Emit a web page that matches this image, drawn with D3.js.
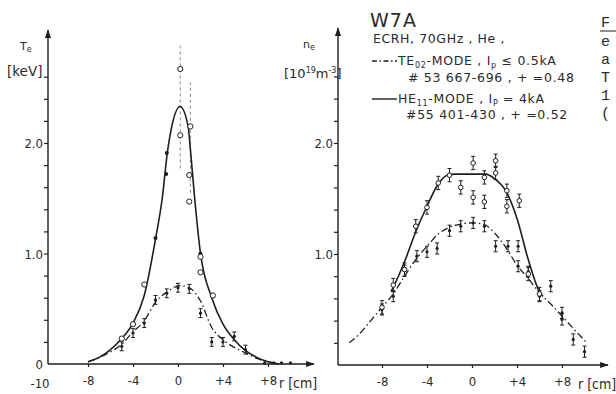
<!DOCTYPE html>
<html>
<head>
<meta charset="utf-8">
<script src="https://cdn.jsdelivr.net/npm/d3@7"></script>
<style>
  body { margin: 0; background: #fff; }
  svg { display: block; }
  text { fill: #2a2a2a; }
</style>
</head>
<body>
<div id="chart"></div>
<script>
// ---- data ----
// Te profiles [r (cm), Te (keV)]
const teFitHE = [[-8,0.02],[-7,0.06],[-6,0.13],[-5,0.23],[-4,0.37],[-3,0.62],[-2,1.13],[-1.4,1.5],[-0.95,1.91],[-0.55,2.15],[0.18,2.33],[0.9,2.15],[1.13,1.91],[1.5,1.48],[2,1.0],[3,0.6],[4,0.36],[5,0.22],[6,0.12],[7,0.06],[8,0.02],[9,0]];
const teFitTE = [[-8,0.02],[-7,0.06],[-6,0.11],[-5,0.18],[-4,0.29],[-3,0.39],[-2,0.56],[-1,0.65],[0.2,0.71],[1,0.69],[2,0.57],[3,0.33],[4,0.22],[5,0.15],[6,0.1],[7,0.05],[8,0.02],[9,0]];
const tePtsHE = [[0.2,2.67],[0.2,2.07],[1.1,2.15],[1.0,1.71],[1.0,1.47],[2,0.97],[2,0.83],[3.1,0.62],[-3,0.72],[-4,0.36],[-5,0.23]];
const tePtsHEdot = [[-1,1.91],[-1.05,1.72],[-2,1.14],[2,1.0]];
const tePtsTE = [[-5,0.16],[-4,0.28],[-3,0.37],[-2,0.58],[-1,0.64],[0,0.69],[1,0.68],[2,0.46],[3,0.2],[4,0.2],[5,0.25],[6,0.13],[7.7,0.01],[8.5,0.01],[9.2,0.01],[10,0.01]];
// long dashed error bars near the axis [r, low, high]
const teBigErr = [[0.2,1.77,2.91],[1.1,1.55,2.55]];

// ne profiles [r (cm), ne (1e19 m^-3)]
const neFitHE = [[-7.2,0.66],[-7,0.70],[-6,0.93],[-5,1.2],[-4,1.43],[-3,1.63],[-2.2,1.71],[-1.5,1.72],[1.2,1.72],[2,1.68],[3,1.57],[4,1.32],[5,0.95],[6,0.66],[6.3,0.62]];
const neFitTE = [[-10.9,0.2],[-10,0.28],[-9,0.4],[-8,0.52],[-7,0.64],[-6,0.8],[-5,0.95],[-4,1.07],[-3,1.18],[-2,1.24],[-1,1.27],[0,1.28],[1,1.27],[2,1.19],[3,1.06],[4,0.9],[5,0.78],[6,0.65],[7,0.55],[8,0.44],[9,0.33],[10.2,0.2]];
const nePtsHE = [[-8,0.52],[-7,0.72],[-6,0.86],[-5,1.25],[-4,1.42],[-3,1.64],[-2,1.71],[-1,1.6],[0.1,1.82],[0.1,1.51],[1.1,1.47],[1.1,1.69],[2.1,1.84],[2.1,1.73],[3.1,1.57],[3.1,1.43],[4.2,1.48],[5,0.82],[6,0.64]];
const nePtsTE = [[-8,0.5],[-7,0.62],[-6,0.85],[-4.9,0.98],[-4,1.02],[-3.1,1.05],[-2,1.21],[-1,1.25],[0.1,1.28],[1.1,1.25],[2.1,1.07],[3.2,1.07],[4.1,1.07],[4.1,0.89],[5,0.84],[6,0.62],[7,0.71],[8,0.47],[8,0.41],[9,0.23],[10,0.12]];

const rTicks = [-8, -4, 0, 4, 8];
const yMinor = [0.2,0.4,0.6,0.8,1.0,1.2,1.4,1.6,1.8,2.0,2.2,2.4,2.6];
const yLabels = {1: '1.0', 2: '2.0'};

const W = 616, H = 394;
const font = "'DejaVu Sans',sans-serif";
const narrow = "'DejaVu Sans Condensed','DejaVu Sans',sans-serif";
const ink = '#1e1e1e';

const svg = d3.select('#chart').append('svg')
    .attr('width', W).attr('height', H)
    .attr('font-family', font);

const defs = svg.append('defs');
defs.append('marker')
    .attr('id', 'arr')
    .attr('viewBox', '0 -4 10 8').attr('refX', 9).attr('refY', 0)
    .attr('markerWidth', 9).attr('markerHeight', 7).attr('markerUnits', 'userSpaceOnUse')
    .attr('orient', 'auto')
    .append('path').attr('d', 'M0,-3.5L10,0L0,3.5Z').attr('fill', ink);

const dashDot = '7,3,1.5,3';

function panel(cfg) {
    const x = d3.scaleLinear().domain([-10, 10]).range(cfg.xr);
    const y = d3.scaleLinear().domain([0, 2]).range(cfg.yr);
    const g = svg.append('g');

    // axes with arrows
    g.append('line')
        .attr('x1', cfg.ax).attr('y1', y(0)).attr('x2', cfg.ax).attr('y2', cfg.top)
        .attr('stroke', ink).attr('stroke-width', 1.4).attr('marker-end', 'url(#arr)');
    g.append('line')
        .attr('x1', cfg.ax).attr('y1', y(0)).attr('x2', cfg.right).attr('y2', y(0))
        .attr('stroke', ink).attr('stroke-width', 1.4).attr('marker-end', 'url(#arr)');

    const yAxis = d3.axisLeft(y).tickValues(yMinor).tickSize(4)
        .tickFormat(d => yLabels[Math.round(d * 10) / 10] || '');
    const ya = g.append('g').attr('transform', `translate(${cfg.ax},0)`).call(yAxis);
    ya.select('.domain').remove();
    ya.selectAll('line').attr('stroke', ink).attr('stroke-width', 1.2);
    ya.selectAll('text').attr('font-size', 13).attr('fill', '#2a2a2a').attr('dy', '0.36em').attr('x', -5)
        .attr('font-family', narrow);

    const xAxis = d3.axisBottom(x).tickValues(rTicks).tickSize(3)
        .tickFormat(d => d > 0 ? '+' + d : d < 0 ? '-' + Math.abs(d) : '0');
    const xa = g.append('g').attr('transform', `translate(0,${y(0)})`).call(xAxis);
    xa.select('.domain').remove();
    xa.selectAll('line').attr('stroke', ink).attr('stroke-width', 1.2);
    xa.selectAll('text').attr('font-size', 13).attr('fill', '#2a2a2a').attr('y', 12)
        .attr('font-family', narrow);

    g.append('text').attr('x', cfg.rx).attr('y', y(0) + 24)
        .attr('font-size', 14).attr('font-family', narrow).text('r [cm]');

    const line = d3.line().x(d => x(d[0])).y(d => y(d[1])).curve(d3.curveMonotoneX);
    return { g, x, y, line };
}

function errorBars(p, pts, err, opts = {}) {
    const eg = p.g.append('g').attr('stroke', opts.color || ink).attr('stroke-width', 1);
    pts.forEach(d => {
        const cx = p.x(d[0]);
        eg.append('line').attr('x1', cx).attr('x2', cx)
            .attr('y1', p.y(d[1] - err)).attr('y2', p.y(d[1] + err));
        [d[1] - err, d[1] + err].forEach(v => {
            eg.append('line').attr('x1', cx - 2).attr('x2', cx + 2)
                .attr('y1', p.y(v)).attr('y2', p.y(v));
        });
    });
}

function circles(p, pts, r) {
    p.g.append('g').selectAll('circle').data(pts).join('circle')
        .attr('cx', d => p.x(d[0])).attr('cy', d => p.y(d[1])).attr('r', r)
        .attr('fill', '#fff').attr('stroke', ink).attr('stroke-width', 1);
}

function dots(p, pts, r) {
    p.g.append('g').selectAll('circle').data(pts).join('circle')
        .attr('cx', d => p.x(d[0])).attr('cy', d => p.y(d[1])).attr('r', r)
        .attr('fill', ink);
}

// ---- left panel: Te ----
const left = panel({ xr: [65.5, 290.5], yr: [364, 143], ax: 48, top: 30, right: 314, rx: 279 });
left.g.append('text').attr('x', 43).attr('y', left.y(0)).attr('dy', '0.36em').attr('text-anchor', 'end')
    .attr('font-size', 13).attr('font-family', narrow).text('0');
left.g.append('text').attr('x', 40).attr('y', left.y(0) + 24)
    .attr('text-anchor', 'middle').attr('font-size', 13)
    .attr('font-family', narrow).text('-10');

const bigErr = left.g.append('g').attr('stroke', '#888').attr('stroke-width', 1).attr('stroke-dasharray', '3,3');
teBigErr.forEach(d => {
    bigErr.append('line').attr('x1', left.x(d[0])).attr('x2', left.x(d[0]))
        .attr('y1', left.y(d[1])).attr('y2', left.y(d[2]));
});
errorBars(left, tePtsTE.slice(0, 12), 0.04);
left.g.append('path').datum(teFitTE).attr('d', left.line)
    .attr('fill', 'none').attr('stroke', ink).attr('stroke-width', 1.3).attr('stroke-dasharray', dashDot);
left.g.append('path').datum(teFitHE).attr('d', left.line)
    .attr('fill', 'none').attr('stroke', ink).attr('stroke-width', 1.6);
dots(left, tePtsTE, 1.6);
dots(left, tePtsHEdot, 2);
circles(left, tePtsHE, 2.6);

left.g.append('text').attr('x', 20).attr('y', 50).attr('font-size', 11)
    .text('T').append('tspan').attr('font-size', 8).attr('dy', 2).text('e');
left.g.append('text').attr('x', 7).attr('y', 76).attr('font-size', 13.5).text('[keV]');

// ---- right panel: ne ----
const right = panel({ xr: [359.5, 584.5], yr: [365, 143], ax: 338, top: 28, right: 608, rx: 578 });
errorBars(right, nePtsHE, 0.06);
errorBars(right, nePtsTE, 0.05);
right.g.append('path').datum(neFitTE).attr('d', right.line)
    .attr('fill', 'none').attr('stroke', ink).attr('stroke-width', 1.3).attr('stroke-dasharray', dashDot);
right.g.append('path').datum(neFitHE).attr('d', right.line)
    .attr('fill', 'none').attr('stroke', ink).attr('stroke-width', 1.6);
dots(right, nePtsTE, 1.6);
circles(right, nePtsHE, 2.3);

right.g.append('text').attr('x', 303).attr('y', 48).attr('font-size', 11)
    .text('n').append('tspan').attr('font-size', 8).attr('dy', 2).text('e');
const neUnit = right.g.append('text').attr('x', 284).attr('y', 78).attr('font-size', 13);
neUnit.append('tspan').text('[10');
neUnit.append('tspan').attr('font-size', 8).attr('dy', -5).text('19');
neUnit.append('tspan').attr('dy', 5).text('m');
neUnit.append('tspan').attr('font-size', 8).attr('dy', -5).text('-3');
neUnit.append('tspan').attr('dy', 5).text(']');

// ---- legend block ----
const lg = svg.append('g');
lg.append('text').attr('x', 370).attr('y', 27).attr('font-size', 19).attr('letter-spacing', 1).text('W7A');
lg.append('text').attr('x', 373).attr('y', 43).attr('font-size', 12.5).attr('letter-spacing', 0.6).text('ECRH, 70GHz , He ,');

lg.append('line').attr('x1', 372).attr('x2', 397).attr('y1', 61).attr('y2', 61)
    .attr('stroke', ink).attr('stroke-width', 1.3).attr('stroke-dasharray', '5,2.5,1.5,2.5');
const l1 = lg.append('text').attr('x', 398).attr('y', 65).attr('font-size', 12.5).attr('letter-spacing', 0.7);
l1.append('tspan').text('TE');
l1.append('tspan').attr('font-size', 8).attr('dy', 3).text('02');
l1.append('tspan').attr('dy', -3).text('-MODE , I');
l1.append('tspan').attr('font-size', 8).attr('dy', 3).text('p');
l1.append('tspan').attr('dy', -3).text(' ≤ 0.5kA');
lg.append('text').attr('x', 408).attr('y', 82).attr('font-size', 12.5).attr('letter-spacing', 0.7).text('# 53 667-696 ,  + =0.48');

lg.append('line').attr('x1', 372).attr('x2', 397).attr('y1', 99).attr('y2', 99)
    .attr('stroke', ink).attr('stroke-width', 1.4);
const l2 = lg.append('text').attr('x', 398).attr('y', 103).attr('font-size', 12.5).attr('letter-spacing', 0.7);
l2.append('tspan').text('HE');
l2.append('tspan').attr('font-size', 8).attr('dy', 3).text('11');
l2.append('tspan').attr('dy', -3).text('-MODE , I');
l2.append('tspan').attr('font-size', 8).attr('dy', 3).text('P');
l2.append('tspan').attr('dy', -3).text(' = 4kA');
lg.append('text').attr('x', 406).attr('y', 119).attr('font-size', 12.5).attr('letter-spacing', 0.7).text('#55 401-430 ,  + =0.52');

// ---- caption fragment cut at the right edge ----
const cap = svg.append('g').attr('font-family', "'Liberation Mono','DejaVu Sans Mono',monospace").attr('font-size', 15);
['F', 'e', 'a', 'T', '1', '('].forEach((c, i) => {
    cap.append('text').attr('x', 601).attr('y', [27, 46, 64, 82, 100, 118][i]).text(c);
});
cap.append('line').attr('x1', 600).attr('x2', 616).attr('y1', 31).attr('y2', 31)
    .attr('stroke', ink).attr('stroke-width', 1);
</script>
</body>
</html>
